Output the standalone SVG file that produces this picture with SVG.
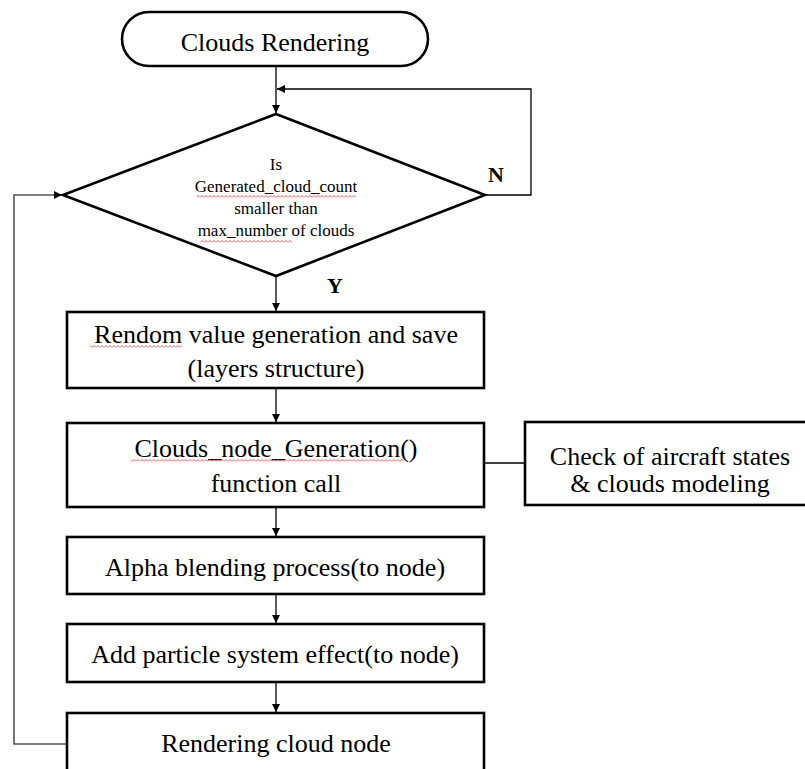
<svg xmlns="http://www.w3.org/2000/svg" width="805" height="769" viewBox="0 0 805 769">
<style>
.box{fill:#fff;stroke:#000;stroke-width:2.6}
.t{font-family:'Liberation Serif',Tinos,'Times New Roman','DejaVu Serif',serif;font-size:26px;fill:#000;text-anchor:middle}
.d{font-family:'Liberation Serif',Tinos,'Times New Roman','DejaVu Serif',serif;font-size:17px;fill:#000;text-anchor:middle}
.lbl{font-family:'Liberation Serif',Tinos,'Times New Roman','DejaVu Serif',serif;font-size:22px;font-weight:bold;fill:#000}
.c{fill:none;stroke:#000;stroke-width:1.3}
.g{fill:none;stroke:#555;stroke-width:1.6}
</style>
<defs>
<marker id="ah" viewBox="0 0 10 10" refX="10" refY="5" markerWidth="8" markerHeight="8" markerUnits="userSpaceOnUse" orient="auto">
<path d="M0,0 L10,5 L0,10 Z" fill="#000"/>
</marker>
<pattern id="sq" width="4" height="3" patternUnits="userSpaceOnUse">
<path d="M0 2.5 L2 0.5 L4 2.5" fill="none" stroke="#e03030" stroke-width="0.8"/>
</pattern>
</defs>
<rect width="805" height="769" fill="#fff"/>
<g id="connectors">
<line class="c" x1="276" y1="67" x2="276" y2="113" marker-end="url(#ah)"/>
<polyline class="c" points="485,195 531,195 531,89 277,89" marker-end="url(#ah)"/>
<line class="c" x1="276" y1="277" x2="276" y2="311" marker-end="url(#ah)"/>
<line class="c" x1="276" y1="389" x2="276" y2="422" marker-end="url(#ah)"/>
<line class="c" x1="484" y1="463" x2="525" y2="463"/>
<line class="c" x1="276" y1="508" x2="276" y2="536" marker-end="url(#ah)"/>
<line class="c" x1="276" y1="595" x2="276" y2="623" marker-end="url(#ah)"/>
<line class="c" x1="276" y1="683" x2="276" y2="712" marker-end="url(#ah)"/>
<polyline class="g" points="67,744 14,744 14,195 62,195" marker-end="url(#ah)"/>
<text class="lbl" x="488" y="182">N</text>
<text class="lbl" x="327" y="293">Y</text>
</g>
<g id="start">
<rect class="box" x="122" y="12" width="306" height="54" rx="27"/>
<text class="t" x="275" y="51">Clouds Rendering</text>
</g>
<g id="decision">
<polygon class="box" points="276,114 485,195 276,276 63,195"/>
<text class="d" x="276" y="170">Is</text>
<text class="d" x="276" y="192">Generated_cloud_count</text>
<text class="d" x="276" y="214">smaller than</text>
<text class="d" x="276" y="236">max_number of clouds</text>
<rect x="197" y="195" width="159" height="3" fill="url(#sq)"/>
<rect x="200" y="240" width="92" height="3" fill="url(#sq)"/>
</g>
<g id="random">
<rect class="box" x="67" y="312" width="417" height="76"/>
<text class="t" x="276" y="343">Rendom value generation and save</text>
<text class="t" x="276" y="377">(layers structure)</text>
<rect x="90" y="345" width="92" height="3" fill="url(#sq)"/>
</g>
<g id="generation">
<rect class="box" x="67" y="423" width="417" height="84"/>
<text class="t" x="276" y="457">Clouds_node_Generation()</text>
<text class="t" x="276" y="492">function call</text>
<rect x="131" y="459" width="273" height="3" fill="url(#sq)"/>
</g>
<g id="check">
<rect class="box" x="525" y="422" width="282" height="83"/>
<text class="t" x="670" y="465">Check of aircraft states</text>
<text class="t" x="670" y="492">&amp; clouds modeling</text>
</g>
<g id="alpha">
<rect class="box" x="67" y="537" width="417" height="57"/>
<text class="t" x="275" y="576">Alpha blending process(to node)</text>
</g>
<g id="particle">
<rect class="box" x="67" y="624" width="417" height="58"/>
<text class="t" x="275" y="663">Add particle system effect(to node)</text>
</g>
<g id="render">
<rect class="box" x="67" y="713" width="417" height="70"/>
<text class="t" x="276" y="752">Rendering cloud node</text>
</g>
</svg>
